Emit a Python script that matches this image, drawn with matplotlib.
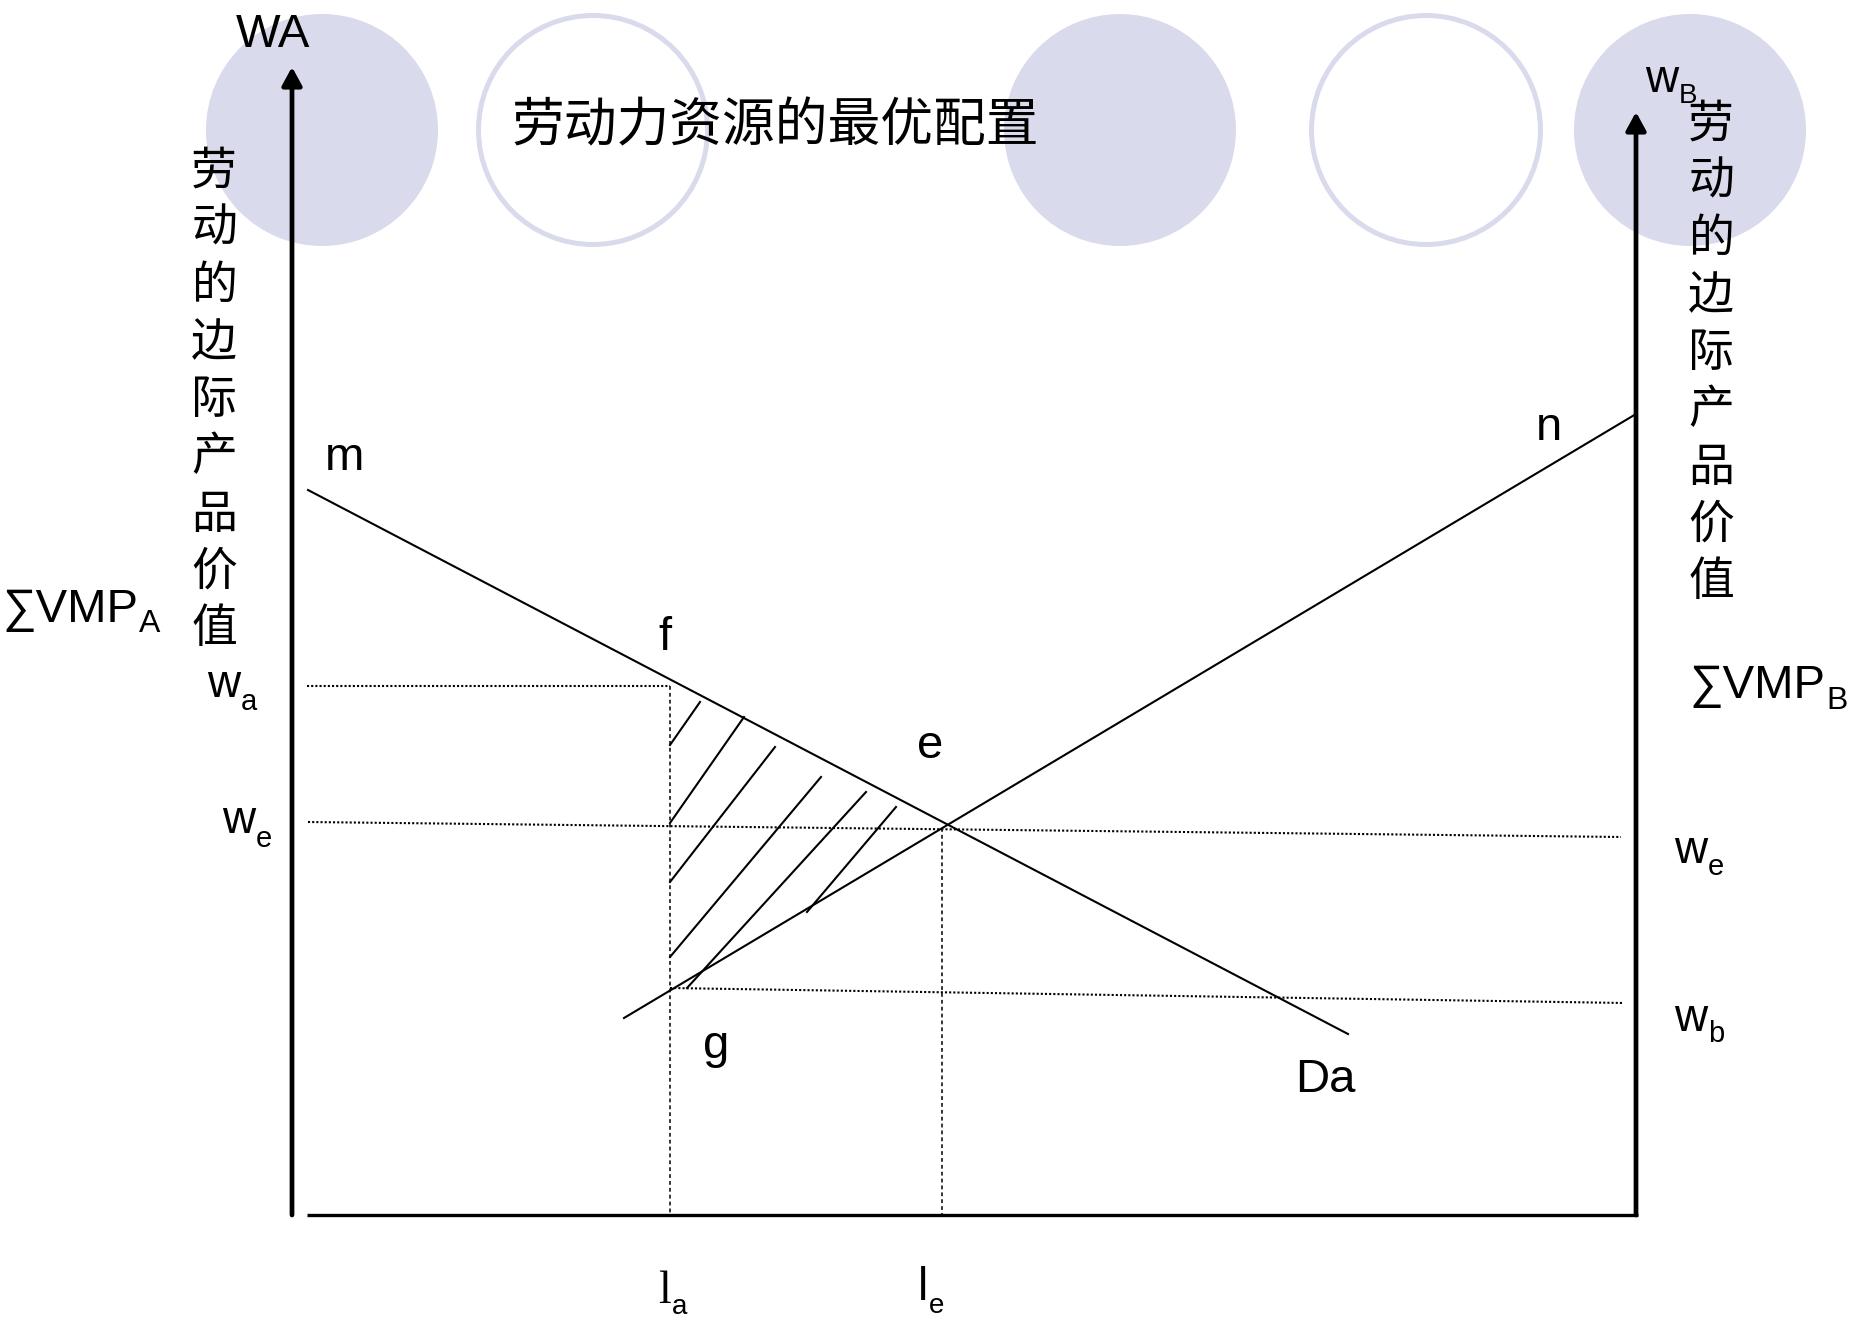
import matplotlib
matplotlib.use('Agg')
import matplotlib.pyplot as plt
from matplotlib.patches import Circle

# diagram units: origin at foot of left axis, x = labour, y = wage
title = '劳动力资源的最优配置'
axis_chars = ['劳', '动', '的', '边', '际', '产', '品', '价', '值']

# sector A marginal value product curve (m ... f ... e ... Da)
da_x = [1.6, 105.6]
da_y = [72.5, 18.1]
# sector B marginal value product curve (g ... e ... n)
nb_x = [33.2, 134.4]
nb_y = [19.7, 80.1]

x_left_axis, x_right_axis = 0.0, 134.4
top_left_axis, top_right_axis = 114.8, 110.3

l_a, l_e = 37.8, 65.0
w_a = 52.9
w_e = [39.3, 37.8]   # left end, right end
w_b = [22.7, 21.2]

# hatched area f-g-e
hatch_x0 = [37.8, 37.8, 37.8, 37.8, 39.5, 51.5]
hatch_y0 = [47.0, 39.2, 33.3, 25.8, 22.7, 30.3]
hatch_x1 = [40.8, 45.2, 48.3, 52.9, 57.4, 60.4]
hatch_y1 = [51.3, 49.8, 46.8, 43.8, 42.3, 40.8]

plt.rcParams['font.family'] = ['Liberation Sans', 'DejaVu Sans']
CJK = ['Noto Sans CJK SC', 'DejaVu Sans']
LAV = '#dadaed'

fig = plt.figure(figsize=(18.54, 13.19), dpi=100)
ax = fig.add_axes([0, 0, 1, 1])
ax.set_xlim(-29.2, 156.2)
ax.set_ylim(-10.4, 121.5)
ax.axis('off')
renderer = fig.canvas.get_renderer()

# decorative circles of the slide template
for cx, filled in zip([3.0, 30.1, 82.8, 113.4, 139.8],
                      [True, False, True, False, True]):
    if filled:
        ax.add_patch(Circle((cx, 108.5), 11.6, facecolor=LAV, edgecolor='none', zorder=0))
    else:
        ax.add_patch(Circle((cx, 108.5), 11.45, facecolor='none', edgecolor=LAV, lw=3.6, zorder=0))

ax.text(48.3, 108.9, title, fontsize=38, family=CJK, ha='center', va='center')

# axes
arrow = dict(arrowstyle='-|>,head_length=0.55,head_width=0.3', color='black',
             lw=3.4, mutation_scale=20, shrinkA=0, shrinkB=0)
ax.annotate('', xy=(x_left_axis, top_left_axis), xytext=(x_left_axis, 0), arrowprops=arrow)
ax.annotate('', xy=(x_right_axis, top_right_axis), xytext=(x_right_axis, 0), arrowprops=arrow)
ax.plot([1.5, x_right_axis + 0.2], [0, 0], color='black', lw=2.4, solid_capstyle='butt')

# curves
ax.plot(da_x, da_y, color='black', lw=1.5)
ax.plot(nb_x, nb_y, color='black', lw=1.5)

# guide lines
dot = dict(color='black', lw=1.5, linestyle=(0, (1, 1)))
vdot = dict(color='black', lw=1.1, linestyle=(0, (2.5, 2)))
ax.plot([1.5, l_a], [w_a, w_a], **dot)
ax.plot([1.6, 132.9], w_e, **dot)
ax.plot([l_a, 133.2], w_b, **dot)
ax.plot([l_a, l_a], [w_a, 0], **vdot)
ax.plot([l_e, l_e], [38.7, 0], **vdot)

for x0, y0, x1, y1 in zip(hatch_x0, hatch_y0, hatch_x1, hatch_y1):
    ax.plot([x0, x1], [y0, y1], color='black', lw=1.5)


def label(x, y, main, sub=None, size=34, sub_size=21, drop=1.2, family=None):
    t = ax.text(x, y, main, fontsize=size, ha='left', va='baseline',
                family=family or plt.rcParams['font.family'])
    if sub:
        bb = t.get_window_extent(renderer)
        x1 = ax.transData.inverted().transform((bb.x1, 0))[0]
        ax.text(x1 + 0.1, y - drop, sub, fontsize=sub_size, ha='left', va='baseline')
    return t


label(-5.6, 116.8, 'WA', size=34)
label(135.3, 112.3, 'w', 'B', size=33, sub_size=20, drop=1.1)
label(-29.0, 59.3, '∑VMP', 'A', size=34, sub_size=23, drop=1.0)
label(139.7, 51.7, '∑VMP', 'B', size=34, sub_size=23, drop=1.1)
label(-8.5, 51.8, 'w', 'a', size=33, drop=1.3)
label(-7.0, 38.2, 'w', 'e', size=33, drop=1.4)
label(138.2, 35.2, 'w', 'e', size=33, drop=1.2)
label(138.2, 18.4, 'w', 'b', size=33, drop=1.1)
label(36.6, -8.8, 'l', 'a', size=33, sub_size=20, drop=1.1, family=['Liberation Serif'])
label(62.6, -8.5, 'l', 'e', size=33, sub_size=20, drop=1.3)

for s, x, y in [('m', 5.3, 74.5), ('f', 37.3, 56.5), ('e', 63.8, 45.7),
                ('g', 42.4, 15.7), ('Da', 103.3, 12.3), ('n', 125.7, 77.5)]:
    ax.text(x, y, s, fontsize=34, ha='center', va='baseline')

# vertical axis titles
for i, ch in enumerate(axis_chars):
    ax.text(-7.8, 104.4 - i * 5.725, ch, fontsize=33, family=CJK, ha='center', va='center')
    ax.text(141.9, 109.1 - i * 5.725, ch, fontsize=33, family=CJK, ha='center', va='center')

fig.savefig('out.png', dpi=100)
